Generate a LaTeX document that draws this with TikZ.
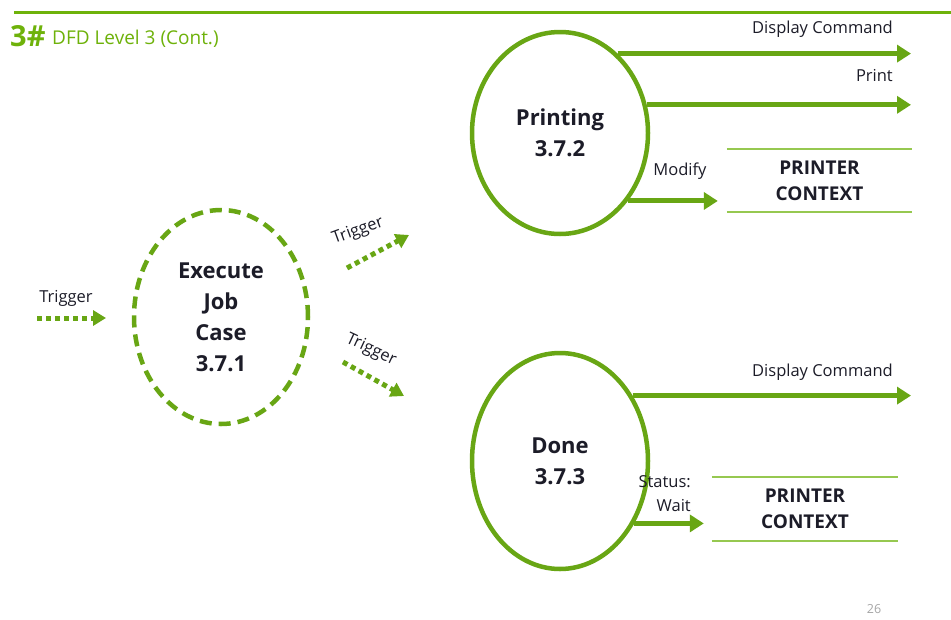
\documentclass[tikz,border=0pt]{standalone}
\usepackage{fontspec}
\setmainfont{Open Sans}
\usetikzlibrary{arrows.meta,shapes.geometric}
\definecolor{fgreen}{RGB}{104,166,20}
\definecolor{tgreen}{RGB}{110,178,10}
\definecolor{sgreen}{RGB}{150,200,80}
\definecolor{tdark}{RGB}{28,28,40}
\begin{document}
\begin{tikzpicture}[x=1pt,y=-1pt,
  proc/.style={ellipse, draw=fgreen, line width=4.5pt, align=center, text=tdark,
    font=\bfseries\fontsize{22}{31}\selectfont, inner sep=0pt},
  flow/.style={draw=fgreen, line width=5pt, -{Triangle[length=14pt,width=17pt]}},
  trig/.style={draw=fgreen, line width=5pt, dash pattern=on 5pt off 4pt, -{Triangle[length=13pt,width=15pt]}},
  lbl/.style={text=tdark, font=\fontsize{16.5}{24}\selectfont, inner sep=0pt},
  storebox/.style={align=center, text=tdark, font=\bfseries\fontsize{19}{26}\selectfont, inner sep=0pt},
  storeline/.style={draw=sgreen, line width=2.5pt}]
\fill[white] (0,0) rectangle (951,619);
\useasboundingbox (0,0) rectangle (951,619);
% title
\coordinate (tl1) at (14,12);
\coordinate (tl2) at (951,12);
\draw[tgreen, line width=3pt] (tl1) -- (tl2);
\node[anchor=base west, inner sep=0pt, text=tgreen, font=\bfseries\fontsize{29}{29}\selectfont] (num) at (10,46) {3\#};
\node[anchor=base west, inner sep=0pt, text=tgreen, font=\fontsize{19}{19}\selectfont] (title) at (52,44) {DFD Level 3 (Cont.)};
% processes
\node[proc, dash pattern=on 12pt off 7pt, minimum width=174, minimum height=214] (exec) at (221,317) {Execute\\Job\\Case\\3.7.1};
\node[proc, minimum width=176, minimum height=202] (prn) at (560,133) {Printing\\3.7.2};
\node[proc, minimum width=176, minimum height=216] (done) at (560,461) {Done\\3.7.3};
% stores
\node[storebox, minimum width=185, minimum height=63] (st1) at (819.5,180.5) {PRINTER\\CONTEXT};
\draw[storeline] (st1.north west) -- (st1.north east);
\draw[storeline] (st1.south west) -- (st1.south east);
\node[storebox, minimum width=186, minimum height=64] (st2) at (805,509) {PRINTER\\CONTEXT};
\draw[storeline] (st2.north west) -- (st2.north east);
\draw[storeline] (st2.south west) -- (st2.south east);
% trigger arrows
\coordinate (tinS) at (37,318);
\coordinate (tinE) at (106,318);
\draw[trig] (tinS) -- (tinE);
\node[lbl] (ltin) at (66,298) {Trigger};
\coordinate (tupS) at (347,268);
\coordinate (tupE) at (409,235);
\draw[trig] (tupS) -- (tupE);
\node[lbl, rotate=20] (ltup) at (358,231) {Trigger};
\coordinate (tdnS) at (343,362);
\coordinate (tdnE) at (404,396);
\draw[trig] (tdnS) -- (tdnE);
\node[lbl, rotate=-25] (ltdn) at (371,350) {Trigger};
% printing flows
\coordinate (dc1) at (911,55);
\draw[flow] (prn.54.4) -- (prn.54.4 -| dc1);
\node[lbl, anchor=east] (ldc1) at (893,29) {Display Command};
\coordinate (pr1) at (911,105);
\draw[flow] (prn.18.3) -- (prn.18.3 -| pr1);
\node[lbl, anchor=east] (lpr1) at (893,76) {Print};
\draw[flow, shorten >=9pt] (prn.-45.5) -- (prn.-45.5 -| st1.west);
\node[lbl] (lmod) at (680,171) {Modify};
% done flows
\coordinate (dc2) at (911,397);
\draw[flow] (done.42.1) -- (done.42.1 -| dc2);
\node[lbl, anchor=east] (ldc2) at (893,372) {Display Command};
\draw[flow, shorten >=8pt] (done.-40.7) -- (done.-40.7 -| st2.west);
\node[lbl, anchor=east, align=right] (lst) at (691,494) {Status:\\Wait};
% page number
\node[text=gray!70, font=\fontsize{12.5}{12.5}\selectfont, inner sep=0pt] (pg) at (874,609) {26};
\end{tikzpicture}
\end{document}
